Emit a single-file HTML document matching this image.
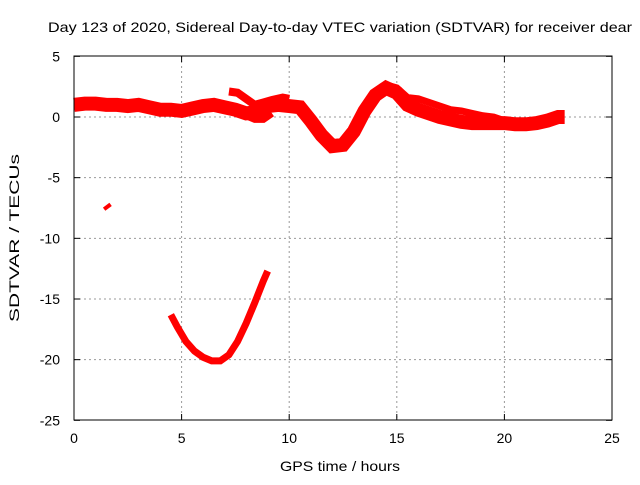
<!DOCTYPE html>
<html><head><meta charset="utf-8"><style>
body{margin:0;background:#fff}
svg text{font-family:"Liberation Sans",sans-serif;font-size:14px;fill:#000}
</style></head><body>
<svg width="640" height="480" xmlns="http://www.w3.org/2000/svg">
<text x="340" y="32" text-anchor="middle" textLength="584" lengthAdjust="spacingAndGlyphs">Day 123 of 2020, Sidereal Day-to-day VTEC variation (SDTVAR) for receiver dear</text>
<g id="grid"></g>
<g id="axes"></g>
<g id="series"></g>
<rect x="74" y="56" width="538" height="364" fill="none" stroke="#000" stroke-width="1"/>
<text x="340" y="471" text-anchor="middle" textLength="120" lengthAdjust="spacingAndGlyphs">GPS time / hours</text>
<text transform="translate(19,238) rotate(-90)" text-anchor="middle" textLength="168" lengthAdjust="spacingAndGlyphs">SDTVAR / TECUs</text>
</svg>
<script>
const xTicks=[0,5,10,15,20,25];
const yTicks=[5,0,-5,-10,-15,-20,-25];
const mainT=[0,0.5,1,1.5,2,2.5,3,3.5,4,4.5,5,5.5,6,6.5,7,7.5,8,8.5,9,9.5,10,10.5,11,11.5,12,12.5,13,13.5,14,14.5,15,15.5,16,16.5,17,17.5,18,18.5,19,19.5,20,20.5,21,21.5,22,22.5,22.8];
const mainV=[1.0,1.1,1.1,1.0,1.0,0.9,1.0,0.8,0.6,0.6,0.5,0.7,0.9,1.0,0.8,0.6,0.3,0.4,0.9,1.0,0.9,0.8,-0.3,-1.5,-2.4,-2.3,-1.2,0.5,1.8,2.4,2.0,1.0,0.6,0.3,0.0,-0.2,-0.4,-0.5,-0.5,-0.5,-0.5,-0.6,-0.6,-0.5,-0.3,0.0,0.0];
const upT=[7.2,7.6,8.0,8.4,8.8,9.2,9.7,10.0];
const upV=[2.1,2.0,1.5,1.0,1.2,1.4,1.6,1.5];
const lowBranchT=[7.6,8.0,8.4,8.8,9.2];
const lowBranchV=[0.4,0.1,-0.2,-0.2,0.3];
const up2T=[14.6,15.0,15.5,16.0,16.5,17,17.5,18,18.5,19,19.5,20];
const up2V=[2.6,2.4,1.6,1.5,1.2,0.9,0.6,0.5,0.3,0.1,0.0,-0.3];
const lowT=[4.5,4.8,5.2,5.6,6.0,6.4,6.8,7.2,7.6,8.0,8.4,8.8,9.0];
const lowV=[-16.3,-17.3,-18.5,-19.3,-19.8,-20.1,-20.1,-19.6,-18.5,-17.0,-15.3,-13.5,-12.7];
const smallT=[1.4,1.7];
const smallV=[-7.6,-7.2];
const X=t=>74+t*(538/25), Y=v=>117-v*(364/30);
const NS="http://www.w3.org/2000/svg";
const grid=document.getElementById('grid'),axes=document.getElementById('axes'),ser=document.getElementById('series');
function mk(tag,at,p){const e=document.createElementNS(NS,tag);for(const k in at)e.setAttribute(k,at[k]);p.appendChild(e);return e;}
xTicks.forEach(t=>{
 if(t>0&&t<25){const g=mk('line',{x1:X(t),x2:X(t),y1:56,y2:420,stroke:'#999','stroke-dasharray':'2,3'},grid);
 
 }
 mk('line',{x1:X(t),x2:X(t),y1:420,y2:414,stroke:'#000'},axes);
 mk('line',{x1:X(t),x2:X(t),y1:56,y2:62,stroke:'#000'},axes);
 const l=mk('text',{x:X(t),y:443,'text-anchor':'middle'},axes);l.textContent=t;
 
 
});
yTicks.forEach(v=>{
 if(v<5&&v>-25){const g=mk('line',{x1:74,x2:612,y1:Y(v),y2:Y(v),stroke:'#999','stroke-dasharray':'2,3'},grid);
 
 }
 mk('line',{x1:74,x2:80,y1:Y(v),y2:Y(v),stroke:'#000'},axes);
 mk('line',{x1:606,x2:612,y1:Y(v),y2:Y(v),stroke:'#000'},axes);
 const l=mk('text',{x:60,y:Y(v)+5,'text-anchor':'end'},axes);l.textContent=v;
 
 
});
function line(T,V,w,name){
 const p=mk('polyline',{points:T.map((t,i)=>X(t)+','+Y(V[i])).join(' '),fill:'none',stroke:'#f00','stroke-width':w,'stroke-linejoin':'miter','stroke-linecap':'butt'},ser);
 
 
}
line(mainT,mainV,14,'main-band');
line(upT,upV,8,'upper-branch-1');
line(lowBranchT,lowBranchV,7,'lower-branch');
line(up2T,up2V,7,'upper-branch-2');
line(lowT,lowV,7,'low-arc');
line(smallT,smallV,4,'small-segment');
</script>
</body></html>
